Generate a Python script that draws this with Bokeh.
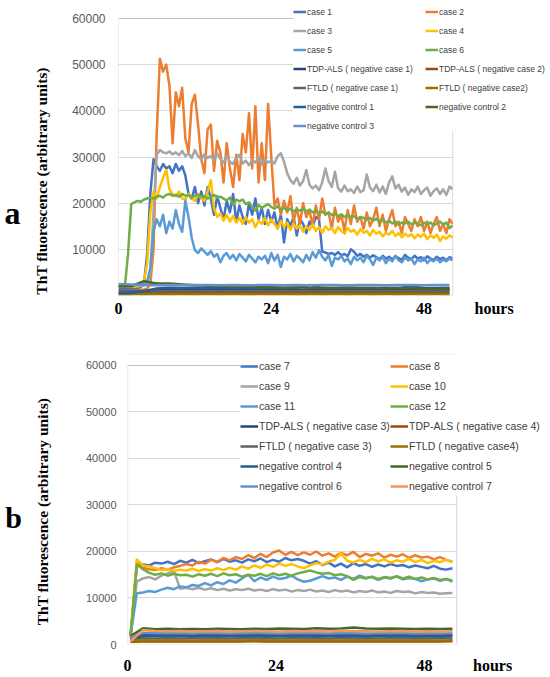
import numpy as np
from bokeh.plotting import figure
from bokeh.models import Legend, LegendItem, Label, FixedTicker, BoxAnnotation
from bokeh.layouts import column, row
from bokeh.embed import file_html
from bokeh.resources import INLINE

# ---------------- Panel a data (hours, ThT fluorescence) ----------------
STEP_A = 0.5          # sampling of the case curves, hours
STEP_A_LOW = 2.0      # sampling of the low (negative) curves, hours

case1 = [1500, 1500, 1500, 1500, 1500, 1500, 1600, 1800, 2500, 9000,
         22000, 29500, 28000, 27000, 28500, 27500, 28000, 26500, 28500, 27000,
         28000, 26000, 22000, 21000, 23500, 20000, 22500, 19500, 23500, 21000,
         17500, 21500, 19000, 16500, 20500, 18000, 22000, 16000, 19500, 17000,
         15500, 20000, 17500, 21000, 16500, 19000, 15500, 18500, 16000, 18000,
         14500, 17500, 11500, 16500, 15000, 17000, 13000, 16500, 15500, 13500,
         16000, 15000, 17000, 16500, 9500, 9300, 9000, 9200, 8800, 9400,
         8700, 9000, 8500, 10000, 9500, 8600, 9000, 8400, 8800, 8200,
         8700, 8300, 7900, 8600, 8000, 8400, 7800, 8500, 8100, 7700,
         8800, 8200, 7900, 8600, 8000, 8300, 7600, 8500, 8000, 7700,
         8400, 7900, 8200, 7600, 8300, 8000]
case2 = [1000, 1000, 1000, 1000, 1100, 1100, 1200, 1200, 1300, 1500,
         2500, 10000, 35000, 51300, 48500, 50000, 45500, 33000, 44000, 41000,
         45000, 34000, 31000, 41500, 43500, 37000, 29500, 26500, 36000, 37000,
         27000, 33500, 31000, 24500, 33000, 27500, 23500, 30500, 25000, 35000,
         31000, 39500, 27500, 41000, 24500, 33000, 25000, 41500, 30000, 19500,
         21000, 17500, 20500, 18000, 21500, 16000, 19000, 15500, 20000, 17000,
         18500, 15000, 19500, 16500, 21000, 17500, 18000, 14500, 19000, 16000,
         17500, 14000, 18500, 15500, 19500, 16000, 17000, 14500, 18000, 15000,
         16500, 19000, 15000, 17500, 14000, 16500, 18500, 15000, 16000, 13500,
         17000, 15500, 14000, 16500, 15000, 17000, 14000, 16000, 13500, 15500,
         17000, 14000, 15500, 13500, 16500, 15500]
case3 = [2000, 2000, 2000, 2000, 2000, 2000, 2000, 2100, 2200, 2500,
         5000, 18000, 30500, 31500, 31000, 30800, 31200, 30600, 31000, 30400,
         31300, 30200, 30800, 29800, 31500, 30200, 29500, 30600, 29800, 30200,
         29300, 30800, 29600, 28800, 30200, 29000, 28500, 29800, 30500, 28600,
         29200, 28200, 29400, 28800, 30000, 28400, 29500, 28800, 29200, 28600,
         30200, 30800, 29000, 26500, 25000, 24200, 25500, 23800, 24800, 27200,
         24000, 23200, 23800, 22800, 24500, 27500, 24800, 23500, 26800, 23200,
         22500, 23800, 22600, 23000, 22200, 23600, 22400, 22800, 26200, 23400,
         22600, 24000, 22300, 23600, 22000, 24500, 25800, 23200, 24000, 22500,
         23400, 21800, 23000, 22400, 23600, 22000, 22800, 23400, 21600, 22600,
         23200, 22000, 23000, 21800, 23600, 23000]
case4 = [2000, 2000, 2000, 2000, 2000, 2000, 2000, 2200, 3000, 7000,
         18000, 22500, 21000, 23500, 25500, 27200, 23000, 22000, 21500, 22500,
         21000, 20800, 22000, 21200, 20500, 22000, 21000, 20500, 22500, 25000,
         19000, 17000, 17800, 16200, 17500, 16000, 17200, 15800, 16800, 15500,
         17000, 15800, 16500, 14800, 16200, 15500, 16800, 15200, 16500, 15500,
         14500, 16200, 14800, 15800, 14200, 15600, 14500, 15200, 13800, 15000,
         14200, 15400, 14000, 14800, 13600, 15000, 14200, 14600, 13500, 14800,
         14000, 13400, 14600, 13800, 14200, 13200, 14400, 13600, 14000, 13000,
         14200, 13400, 13800, 12800, 13600, 13200, 14000, 12900, 13500, 12600,
         13400, 12800, 13300, 12400, 13200, 12700, 13400, 12200, 13000, 12500,
         13200, 11800, 12800, 12300, 13000, 12600]
case5 = [2200, 2200, 2200, 2200, 2200, 2200, 2200, 2300, 2500, 3000,
         6000, 14000, 16500, 15000, 17500, 13500, 16000, 14500, 18500, 15500,
         13800, 20500, 17000, 12500, 9800, 9200, 10200, 9500, 8800, 9600,
         8400, 9000, 7200, 8600, 9200, 8000, 8800, 7600, 9000, 8200,
         7400, 8800, 8000, 7200, 8400, 7800, 8600, 7000, 9200, 7600,
         8800, 6200, 8400, 7800, 9000, 7400, 8600, 8000, 7200, 8800,
         7600, 9400, 8200, 9800, 8400, 7600, 8800, 6400, 8200, 7800,
         8600, 7400, 8000, 6800, 8400, 7600, 8200, 7200, 8600, 7800,
         6600, 8200, 7600, 8400, 7000, 8000, 7400, 8600, 7600, 7200,
         8200, 7600, 8000, 6800, 7800, 7400, 8200, 7000, 7800, 7400,
         8000, 7200, 7800, 7400, 8000, 7600]
case6 = [2000, 2000, 2000, 9000, 19800, 20200, 20500, 20300, 20800, 21000,
         21200, 21000, 21400, 21600, 21200, 21800, 22000, 21600, 21800, 21400,
         22000, 21600, 21800, 21200, 21600, 21800, 21400, 21600, 21000, 21400,
         21800, 21200, 21400, 21000, 20600, 21200, 19600, 20800, 20400, 20800,
         19800, 20200, 19200, 18400, 19600, 19000, 19400, 19800, 19200, 18800,
         19400, 18600, 19000, 18400, 18800, 18200, 18600, 18400, 18800, 18200,
         18600, 18000, 18400, 17800, 18200, 17600, 18000, 17400, 17800, 17200,
         17600, 17000, 17400, 17000, 17200, 16600, 17000, 16800, 16400, 16800,
         16200, 16600, 16000, 16400, 15800, 16200, 15600, 16000, 15400, 15800,
         15600, 16000, 15400, 15800, 15600, 15200, 15800, 15400, 15800, 15200,
         15600, 16000, 15400, 15800, 14600, 15200]
tdp_neg1 = [300, 300, 500, 1200, 1400, 1300, 1400, 1300, 1350, 1300, 1250, 1300, 1250, 1300,
            1200, 1250, 1300, 1250, 1200, 1250, 1300, 1200, 1250, 1200, 1250, 1200, 1250]
tdp_neg2 = [600, 600, 650, 600, 620, 600, 650, 600, 620, 600, 640, 600, 620, 600,
            650, 600, 620, 600, 640, 600, 620, 600, 650, 600, 620, 600, 640]
ftld_neg1 = [1100, 1050, 1000, 1050, 1000, 1050, 1000, 1050, 1000, 1050, 1000, 1050, 1000, 1050,
             1000, 1050, 1000, 1050, 1000, 1050, 1000, 1050, 1000, 1050, 1000, 1050, 1000]
ftld_neg2 = [300, 300, 280, 300, 280, 300, 280, 300, 280, 300, 280, 300, 280, 300,
             280, 300, 280, 300, 280, 300, 280, 300, 280, 300, 280, 300, 280]
negctl1 = [500, 600, 900, 1500, 1700, 1600, 1700, 1650, 1600, 1700, 1650, 1600, 1700, 1650,
           1600, 2300, 1650, 1600, 1700, 1600, 1650, 1700, 1600, 2000, 1650, 1600, 1700]
negctl2 = [2000, 2000, 3100, 2600, 2600, 2400, 2200, 2100, 2000, 1900, 1900, 1800, 1800, 1700,
           1800, 1700, 1700, 1600, 1700, 1600, 1600, 1500, 1600, 1500, 1500, 1400, 1500]
negctl3 = [2500, 2400, 2300, 2200, 2300, 2200, 2300, 2250, 2200, 2300, 2200, 2250, 2300, 2200,
           2250, 2200, 2300, 2250, 2200, 2300, 2250, 2200, 2300, 2250, 2200, 2300, 2250]

# ---------------- Panel b data ----------------
START_B = 0.5
STEP_B = 1.0
STEP_B_LOW = 2.0

case7 = [2000, 16800, 17200, 17000, 17600, 17400, 17800, 17300, 18000, 17600,
         18200, 17500, 17900, 18300, 17700, 18400, 17800, 18100, 17600, 18300,
         17900, 18500, 17700, 18200, 17800, 18600, 18100, 18400, 18000, 17400,
         17900, 17100, 17600, 16800, 17400, 16600, 17500, 16900, 17300, 16700,
         17200, 16800, 17300, 16900, 17100, 16600, 17000, 16700, 16400, 16900,
         16300, 16100, 16400]
case8 = [1500, 17500, 16500, 16200, 16000, 16400, 16100, 16600, 16900, 17300,
         17000, 17800, 17400, 18200, 17800, 18600, 18100, 18800, 18400, 19200,
         18600, 19500, 18800, 19800, 20200, 19300, 19900, 19200, 19800, 19300,
         20000, 19100, 19600, 18900, 19700, 19200, 19900, 18800, 19500, 19100,
         19600, 18700, 19300, 18900, 19400, 18600, 19200, 18700, 18900, 18300,
         18800, 18200, 17800]
case9 = [2000, 13500, 14200, 14500, 14000, 14800, 15300, 15800, 12000, 12200,
         11900, 12200, 11800, 12100, 11700, 12000, 11600, 11900, 11700, 12000,
         11600, 11800, 11500, 11900, 11600, 11800, 11400, 11700, 11500, 11800,
         11400, 11600, 11300, 11700, 11400, 11600, 11200, 11500, 11300, 11600,
         11200, 11400, 11100, 11500, 11300, 11400, 11000, 11300, 11100, 11200,
         10900, 11000, 11100]
case10 = [2000, 18300, 17000, 16800, 16400, 16000, 16200, 15800, 16100, 15900,
          16300, 15800, 16200, 15900, 16400, 16000, 16500, 16100, 16800, 16300,
          17000, 16500, 17200, 16700, 17400, 16900, 17300, 16800, 16400, 17000,
          17500, 17200, 17800, 18200, 19600, 18000, 17600, 18200, 17700, 18400,
          17900, 18300, 17600, 18100, 17800, 18400, 17700, 18200, 17500, 18000,
          17700, 18200, 17800]
case11 = [2000, 11000, 11200, 11500, 11300, 11800, 12200, 11900, 12500, 12300,
          12800, 12600, 13200, 12700, 13400, 13000, 13800, 13300, 14200, 15000,
          13600, 14400, 13900, 14600, 14100, 14300, 14800, 14000, 13500, 13700,
          14200, 14700, 14200, 14400, 13900, 14600, 14100, 14800, 14300, 14500,
          13900, 14400, 14200, 14600, 14000, 14300, 14100, 13600, 14000, 14200,
          13700, 14100, 13500]
case12 = [2000, 17200, 16200, 15400, 15000, 15300, 14800, 15200, 14900, 15000,
          14600, 15100, 14800, 15200, 14700, 15300, 14900, 15100, 14600, 15000,
          14800, 15200, 14700, 15300, 14900, 15200, 14800, 15300, 15600, 15900,
          15500, 15200, 15400, 14900, 15100, 14700, 13900, 14500, 14200, 14600,
          14100, 14500, 14300, 14700, 14200, 14600, 14100, 14400, 14000, 14300,
          13900, 14100, 13700]
tdp_neg3 = [1200, 2100, 2050, 2100, 2050, 2100, 2000, 2050, 2100, 2050, 2000, 2050, 2100, 2050,
            2000, 2050, 2100, 2050, 2000, 2050, 2100, 2050, 2000, 2050, 2000, 2050, 2000]
tdp_neg4 = [600, 650, 700, 650, 680, 650, 700, 650, 680, 650, 700, 650, 680, 650,
            700, 650, 680, 650, 700, 650, 680, 650, 700, 650, 680, 650, 700]
ftld_neg3 = [1300, 1350, 1300, 1350, 1300, 1320, 1300, 1350, 1300, 1320, 1300, 1350, 1300, 1320,
             1300, 1350, 1300, 1320, 1300, 1350, 1300, 1320, 1300, 1350, 1300, 1320, 1300]
ftld_neg4 = [850, 870, 850, 870, 850, 860, 850, 870, 850, 860, 850, 870, 850, 860,
             850, 870, 850, 860, 850, 870, 850, 860, 850, 870, 850, 860, 850]
negctl4 = [1000, 1900, 1850, 1900, 1850, 1900, 1800, 1850, 1900, 1850, 1800, 1850, 1900, 1850,
           1800, 1850, 1900, 1850, 1800, 1850, 1900, 1850, 1800, 1850, 1800, 1850, 1800]
negctl5 = [1800, 3500, 3300, 3400, 3300, 3350, 3300, 3400, 3350, 3300, 3400, 3350, 3450, 3400,
           3350, 3500, 3400, 3450, 3650, 3450, 3400, 3450, 3400, 3350, 3400, 3350, 3400]
negctl6 = [1500, 2500, 2400, 2450, 2400, 2350, 2450, 2400, 2350, 2400, 2450, 2400, 2350, 2400,
           2450, 2400, 2350, 2450, 2400, 2350, 2400, 2450, 2400, 2350, 2400, 2350, 2400]
negctl7 = [700, 3100, 2900, 2850, 2900, 2800, 2850, 2900, 2800, 2850, 2900, 2850, 2800, 2900,
           2850, 2900, 2800, 2950, 2900, 2850, 2800, 2850, 2900, 2800, 2850, 2800, 2850]

Y_TICKS = [0, 10000, 20000, 30000, 40000, 50000, 60000]
Y_MAX = 60000
X_TICKS = [0, 24, 48]
X_TITLE = "hours"
X_TITLE_POS = 59          # "hours" sits on the tick-label line, right of the plot
Y_LABEL = "ThT fluorescence (arbitrary units)"
PANEL_LABELS = ["a", "b"]

SERIF = "Liberation Serif"
NBSP = "\u00a0"
LABEL_COL = 30            # width of the strip that carries the panel letter

series_a = [
    ("case 1", case1, 0.0, STEP_A, "#4472C4"),
    ("case 2", case2, 0.0, STEP_A, "#ED7D31"),
    ("case 3", case3, 0.0, STEP_A, "#A5A5A5"),
    ("case 4", case4, 0.0, STEP_A, "#FFC000"),
    ("case 5", case5, 0.0, STEP_A, "#5B9BD5"),
    ("case 6", case6, 0.0, STEP_A, "#70AD47"),
    ("TDP-ALS ( negative case 1)", tdp_neg1, 0.0, STEP_A_LOW, "#264478"),
    ("TDP-ALS ( negative case 2)", tdp_neg2, 0.0, STEP_A_LOW, "#9E480E"),
    ("FTLD ( negative case 1)", ftld_neg1, 0.0, STEP_A_LOW, "#636363"),
    ("FTLD ( negative case2)", ftld_neg2, 0.0, STEP_A_LOW, "#997300"),
    ("negative control 1", negctl1, 0.0, STEP_A_LOW, "#255E91"),
    ("negative control 2", negctl2, 0.0, STEP_A_LOW, "#43682B"),
    ("negative control 3", negctl3, 0.0, STEP_A_LOW, "#698ED0"),
]
series_b = [
    ("case 7", case7, START_B, STEP_B, "#4472C4"),
    ("case 8", case8, START_B, STEP_B, "#ED7D31"),
    ("case 9", case9, START_B, STEP_B, "#A5A5A5"),
    ("case 10", case10, START_B, STEP_B, "#FFC000"),
    ("case 11", case11, START_B, STEP_B, "#5B9BD5"),
    ("case 12", case12, START_B, STEP_B, "#70AD47"),
    ("TDP-ALS ( negative case 3)", tdp_neg3, START_B, STEP_B_LOW, "#264478"),
    ("TDP-ALS ( negative case 4)", tdp_neg4, START_B, STEP_B_LOW, "#9E480E"),
    ("FTLD ( negative case 3)", ftld_neg3, START_B, STEP_B_LOW, "#636363"),
    ("FTLD ( negative case4)", ftld_neg4, START_B, STEP_B_LOW, "#997300"),
    ("negative control 4", negctl4, START_B, STEP_B_LOW, "#255E91"),
    ("negative control 5", negctl5, START_B, STEP_B_LOW, "#43682B"),
    ("negative control 6", negctl6, START_B, STEP_B_LOW, "#698ED0"),
    ("negative control 7", negctl7, START_B, STEP_B_LOW, "#F1975A"),
]


def letter_strip(text, height, x, y_from_top, size):
    # narrow figure whose frame is the whole strip; holds the panel letter
    s = figure(width=LABEL_COL, height=height, x_range=(0, LABEL_COL), y_range=(0, height),
               output_backend="svg", toolbar_location=None, min_border=0,
               x_axis_type=None, y_axis_type=None)
    s.outline_line_color = None
    s.grid.visible = False
    s.add_layout(Label(x=x, y=height - y_from_top, text=text, text_font=SERIF,
                       text_font_style="bold", text_font_size=size, text_color="black",
                       text_align="center", text_baseline="alphabetic"))
    return s


def make_panel(series, height, x_plot_end, x_frame_end, y_frame_end, border_left,
               border_bottom, box_color, box_width, ytick_size, ytick_standoff,
               ylabel_standoff, ylabel_pad, xtick_standoff, legend_size, legend_opts,
               drop_zero, outer_top=None):
    # the frame spans the plot area plus the legend zone (top / right);
    # the Excel-style plot area box is drawn as an annotation
    p = figure(width=550 - LABEL_COL, height=height, x_range=(0, x_frame_end),
               y_range=(0, y_frame_end), output_backend="svg", toolbar_location=None,
               min_border=0, min_border_left=border_left, min_border_right=0,
               min_border_top=0, min_border_bottom=border_bottom)
    p.outline_line_color = None
    p.xgrid.visible = False
    p.ygrid.grid_line_color = "#D9D9D9"
    p.ygrid.grid_line_width = 1

    for ax in (p.xaxis[0], p.yaxis[0]):
        ax.axis_line_color = None
        ax.major_tick_line_color = None
        ax.minor_tick_line_color = None
        ax.major_tick_out = 0
        ax.major_tick_in = 0
        ax.minor_tick_out = 0
        ax.minor_tick_in = 0

    p.yaxis.ticker = FixedTicker(ticks=Y_TICKS)
    if drop_zero:
        p.yaxis.major_label_overrides = {0: ""}
    p.yaxis.major_label_text_font = "Liberation Sans"
    p.yaxis.major_label_text_font_size = ytick_size
    p.yaxis.major_label_text_color = "#595959"
    p.yaxis.major_label_standoff = ytick_standoff
    # trailing no-break spaces move the title towards the lower part of the axis
    p.yaxis.axis_label = Y_LABEL + NBSP * ylabel_pad
    p.yaxis.axis_label_text_font = SERIF
    p.yaxis.axis_label_text_font_style = "bold"
    p.yaxis.axis_label_text_font_size = "15.5px"
    p.yaxis.axis_label_text_color = "black"
    p.yaxis.axis_label_standoff = ylabel_standoff

    p.xaxis.ticker = FixedTicker(ticks=X_TICKS + [X_TITLE_POS])
    p.xaxis.major_label_overrides = {X_TITLE_POS: X_TITLE}
    p.xaxis.major_label_text_font = SERIF
    p.xaxis.major_label_text_font_style = "bold"
    p.xaxis.major_label_text_font_size = "16px"
    p.xaxis.major_label_text_color = "black"
    p.xaxis.major_label_standoff = xtick_standoff

    items = []
    for name, vals, start, step, color in series:
        y = np.asarray(vals, dtype=float)
        x = start + step * np.arange(len(y))
        r = p.line(x, y, line_color=color, line_width=2.5, line_join="round")
        items.append(LegendItem(label=name, renderers=[r]))

    if outer_top is not None:
        # light chart-area border (only its top edge falls inside the frame)
        p.add_layout(BoxAnnotation(left=-20, right=200, bottom=-50000, top=outer_top,
                                   fill_alpha=0, line_color="#D9D9D9", line_width=1))
    # white mask right of the plot area, then the plot-area box, then the legend
    p.add_layout(BoxAnnotation(left=x_plot_end, fill_color="white", fill_alpha=1.0,
                               line_color=None))
    p.add_layout(BoxAnnotation(left=0, right=x_plot_end, bottom=0, top=Y_MAX,
                               fill_alpha=0, line_color=box_color, line_width=box_width))
    legend = Legend(items=items, orientation="horizontal", ncols=2,
                    border_line_color=None, background_fill_color="white",
                    background_fill_alpha=1.0,
                    label_text_font="Liberation Sans", label_text_font_size=legend_size,
                    label_text_color="#404040", **legend_opts)
    p.add_layout(legend, "center")
    return p


fa = make_panel(series_a, 320, 52.5, 67.86, 63899, 117 - LABEL_COL, 25, "#8C8C8C", 1,
                "12px", 13, 19, 17, 4, "8.5px",
                dict(location=(175, 164), padding=3, spacing=8, label_height=11,
                     glyph_height=11, glyph_width=13, label_standoff=1, label_width=110),
                True)
la = letter_strip(PANEL_LABELS[0], 320, 12, 230, "32px")

fb = make_panel(series_b, 357, 53.2, 68.35, 69677, 126 - LABEL_COL, 33, "#8EA2C8", 1.5,
                "11px", 11, 32, 15, 12, "10.5px",
                dict(location=(113, 148), padding=6, spacing=0, label_height=20,
                     glyph_height=20, glyph_width=18, label_standoff=1, label_width=131),
                False, outer_top=62366)
lb = letter_strip(PANEL_LABELS[1], 357, 13, 217, "30px")

layout = column(row(la, fa, spacing=0), row(lb, fb, spacing=0), spacing=0)
open("out.html", "w").write(file_html(layout, INLINE))
